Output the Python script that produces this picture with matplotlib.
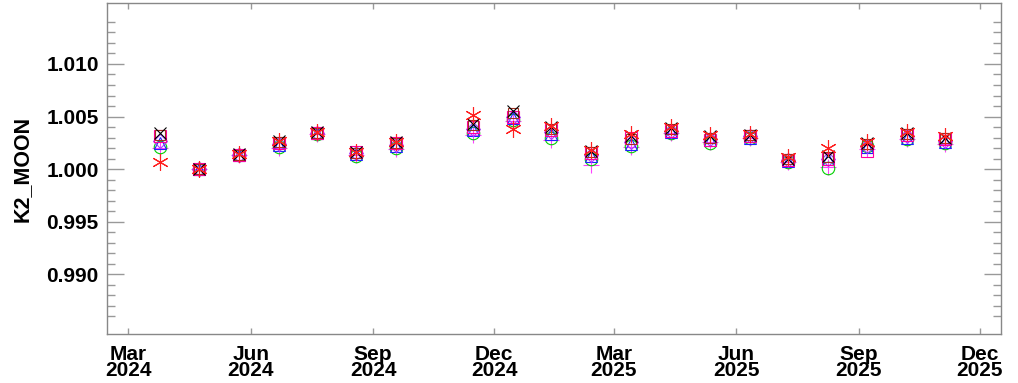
import datetime as dt

import matplotlib
matplotlib.use("Agg")
import matplotlib.pyplot as plt
import matplotlib.dates as mdates
from matplotlib.ticker import FixedLocator

# full moon dates of the observations
dates = ["2024-03-25", "2024-04-23", "2024-05-23", "2024-06-22", "2024-07-21",
         "2024-08-19", "2024-09-18", "2024-11-15", "2024-12-15", "2025-01-13",
         "2025-02-12", "2025-03-14", "2025-04-13", "2025-05-12", "2025-06-11",
         "2025-07-10", "2025-08-09", "2025-09-07", "2025-10-07", "2025-11-05"]

red_ast = [1.0007, 1.0000, 1.0014, 1.0027, 1.0035, 1.0016, 1.0026, 1.0051, 1.0038, 1.0041,
           1.0018, 1.0033, 1.0040, 1.0032, 1.0033, 1.0011, 1.0020, 1.0026, 1.0035, 1.0031]
black_x = [1.0034, 1.0000, 1.0014, 1.0027, 1.0035, 1.0016, 1.0026, 1.0043, 1.0055, 1.0040,
           1.0017, 1.0031, 1.0039, 1.0031, 1.0032, 1.0010, 1.0012, 1.0025, 1.0034, 1.0030]
brown_sq = [1.0032, 1.0000, 1.0013, 1.0026, 1.0034, 1.0015, 1.0025, 1.0042, 1.0053, 1.0038,
            1.0016, 1.0029, 1.0038, 1.0030, 1.0032, 1.0010, 1.0011, 1.0024, 1.0033, 1.0030]
magenta_sq = [1.0031, 1.0000, 1.0013, 1.0025, 1.0034, 1.0016, 1.0025, 1.0040, 1.0050, 1.0037,
              1.0015, 1.0030, 1.0036, 1.0028, 1.0031, 1.0009, 1.0010, 1.0017, 1.0032, 1.0029]
purple_dia = [1.0027, 1.0000, 1.0013, 1.0024, 1.0034, 1.0015, 1.0023, 1.0038, 1.0050, 1.0035,
              1.0013, 1.0026, 1.0036, 1.0029, 1.0031, 1.0009, 1.0010, 1.0022, 1.0031, 1.0027]
blue_tri = [1.0025, 1.0000, 1.0013, 1.0023, 1.0034, 1.0014, 1.0022, 1.0037, 1.0049, 1.0033,
            1.0012, 1.0024, 1.0035, 1.0028, 1.0030, 1.0008, 1.0010, 1.0021, 1.0030, 1.0026]
green_circ = [1.0021, 1.0000, 1.0013, 1.0021, 1.0033, 1.0012, 1.0020, 1.0034, 1.0047, 1.0030,
              1.0010, 1.0022, 1.0034, 1.0025, 1.0030, 1.0007, 1.0001, 1.0022, 1.0029, 1.0025]
pink_plus = [1.0020, 1.0000, 1.0013, 1.0020, 1.0033, 1.0013, 1.0019, 1.0032, 1.0046, 1.0028,
             1.0004, 1.0021, 1.0034, 1.0026, 1.0030, 1.0007, 1.0002, 1.0019, 1.0029, 1.0024]

y_major = [0.990, 0.995, 1.000, 1.005, 1.010]
y_minor = [0.986, 0.987, 0.988, 0.989, 0.991, 0.992, 0.993, 0.994, 0.996, 0.997,
           0.998, 0.999, 1.001, 1.002, 1.003, 1.004, 1.006, 1.007, 1.008, 1.009,
           1.011, 1.012, 1.013, 1.014]

x = [dt.datetime.strptime(d, "%Y-%m-%d") for d in dates]

plt.rcParams["font.family"] = ["Liberation Sans", "DejaVu Sans"]
plt.rcParams["font.weight"] = "bold"

fig = plt.figure(figsize=(10.18, 3.83), dpi=100)
ax = fig.add_axes([0.1051, 0.128, 0.8782, 0.864])

lw = 0.8
ax.plot(x, pink_plus, ls="none", marker="+", ms=11, mew=lw, color="#ff40ff")
ax.plot(x, green_circ, ls="none", marker="o", ms=9, mew=lw, mfc="none", color="#00d000")
ax.plot(x, blue_tri, ls="none", marker="^", ms=9, mew=lw, mfc="none", color="#2020ff")
ax.plot(x, purple_dia, ls="none", marker="D", ms=7, mew=lw, mfc="none", color="#a040ff")
ax.plot(x, magenta_sq, ls="none", marker="s", ms=9, mew=lw, mfc="none", color="#ff00a0")
ax.plot(x, brown_sq, ls="none", marker="s", ms=7, mew=lw, mfc="none", color="#a03020")
ax.plot(x, black_x, ls="none", marker="x", ms=9, mew=lw, color="black")
ax.plot(x, red_ast, ls="none", marker=(6, 2, 0), ms=12, mew=lw, color="#ff2020")

ax.set_xlim(dt.datetime(2024, 2, 14), dt.datetime(2025, 12, 17))
ax.set_ylim(0.9843, 1.0158)

ax.xaxis.set_major_locator(mdates.MonthLocator(bymonth=[3, 6, 9, 12]))
ax.xaxis.set_major_formatter(mdates.DateFormatter("%b\n%Y"))
ax.yaxis.set_major_locator(FixedLocator(y_major))
ax.yaxis.set_minor_locator(FixedLocator(y_minor))
ax.yaxis.set_major_formatter(plt.FormatStrFormatter("%.3f"))

for s in ax.spines.values():
    s.set_color("#888888")
    s.set_linewidth(1.0)

ax.tick_params(axis="y", which="major", direction="in", length=12, width=1,
               color="#999999", left=True, right=True, labelsize=15, pad=6)
ax.tick_params(axis="y", which="minor", direction="in", length=5.5, width=1,
               color="#999999", left=True, right=True)
ax.tick_params(axis="x", which="major", direction="in", length=4.5, width=1,
               color="#999999", top=True, bottom=True, labelsize=15, pad=8)
for lab in ax.get_xticklabels():
    lab.set_linespacing(0.8)
    lab.set_fontweight("bold")
for lab in ax.get_yticklabels():
    lab.set_fontweight("bold")

ax.set_ylabel("K2_MOON", fontsize=15.5, fontweight="bold", labelpad=10)

fig.savefig("out.png", dpi=100)
